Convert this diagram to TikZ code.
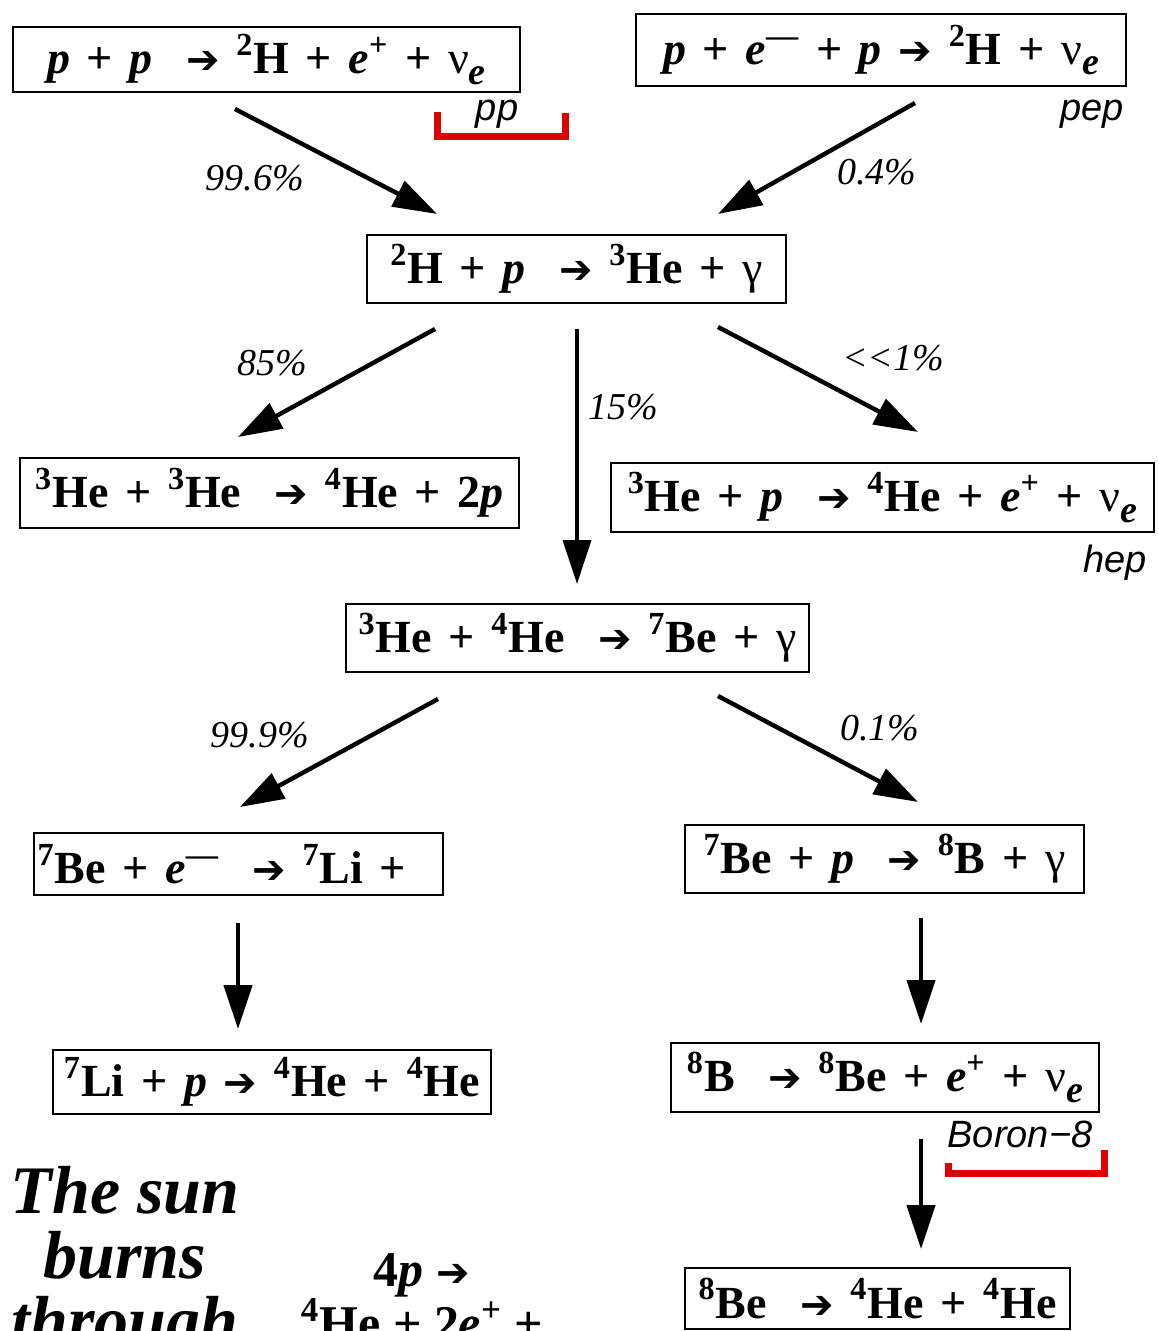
\documentclass[tikz,border=0pt]{standalone}
\usepackage{fontspec}
\setmainfont{Liberation Serif}
\setsansfont{Liberation Sans}
\newfontfamily\rxnfont[WordSpace=1.45]{Liberation Serif}
\newfontfamily\arrfont{DejaVu Sans}
\usetikzlibrary{arrows.meta,positioning,calc}
\definecolor{brred}{HTML}{DD0000}
\newcommand{\nuc}[2]{\textsuperscript{#1}#2}
\newcommand{\prt}{\textit{p}}
\newcommand{\elc}[1]{\textit{e}\textsuperscript{#1}}
\newcommand{\nue}{{\mdseries ν}\raisebox{-0.5ex}{\fontsize{19}{19}\selectfont\textit{e}}}
\newcommand{\gam}{{\mdseries γ}}
\newcommand{\yields}{{\arrfont\fontsize{20}{20}\selectfont ➔}}

\begin{document}
\begin{tikzpicture}[x=0.5pt,y=-0.5pt,
  rxn/.style={draw,line width=1pt,inner sep=0pt,font=\rxnfont\bfseries\fontsize{23}{27}\selectfont},
  flow/.style={line width=2.2pt,-{Triangle[length=22pt,width=14pt]}},
  pct/.style={font=\itshape\fontsize{19}{22}\selectfont},
  tag/.style={font=\sffamily\itshape\fontsize{19}{22}\selectfont},
  brk/.style={draw=brred,line width=3.5pt}]
  \clip (0,0) rectangle (1159,1331);

  % reactions
  \node[rxn,minimum width=253.5pt,minimum height=32.5pt] (pp) at (266.5,59.5)
    {\prt\ + \prt\ \ \yields\ \nuc{2}{H} + \elc{+} + \nue};
  \node[rxn,minimum width=245pt,minimum height=36pt] (pep) at (881,50)
    {\prt\ + \elc{—} + \prt\ \yields\ \nuc{2}{H} + \nue};
  \node[rxn,minimum width=209.5pt,minimum height=34pt] (dp) at (576.5,269)
    {\nuc{2}{H} + \prt\ \ \yields\ \nuc{3}{He} + \gam};
  \node[rxn,minimum width=249.5pt,minimum height=35pt] (hehe) at (269.5,493)
    {\nuc{3}{He} + \nuc{3}{He} \ \yields\ \nuc{4}{He} + 2\prt};
  \node[rxn,minimum width=271.5pt,minimum height=34.5pt] (hep) at (882.5,497.5)
    {\nuc{3}{He} + \prt\ \ \yields\ \nuc{4}{He} + \elc{+} + \nue};
  \node[rxn,minimum width=231.5pt,minimum height=34pt] (be7) at (577.5,638)
    {\nuc{3}{He} + \nuc{4}{He} \ \yields\ \nuc{7}{Be} + \gam};
  \node[rxn,minimum width=204.5pt,minimum height=31pt] (ec) at (238.5,864)
    {\nuc{7}{Be} + \elc{—} \ \yields\ \nuc{7}{Li} + \ \ };
  \node[rxn,minimum width=199.5pt,minimum height=34pt] (b8) at (884.5,859)
    {\nuc{7}{Be} + \prt\ \ \yields\ \nuc{8}{B} + \gam};
  \node[rxn,minimum width=219pt,minimum height=32pt] (li) at (272,1082)
    {\nuc{7}{Li} + \prt\ \yields\ \nuc{4}{He} + \nuc{4}{He}};
  \node[rxn,minimum width=214pt,minimum height=34.5pt] (bdec) at (885,1077.5)
    {\nuc{8}{B} \ \yields\ \nuc{8}{Be} + \elc{+} + \nue};
  \node[rxn,minimum width=192.5pt,minimum height=30.5pt] (be8) at (877.5,1298.5)
    {\nuc{8}{Be} \ \yields\ \nuc{4}{He} + \nuc{4}{He}};

  % branches
  \draw[flow] ([shift={(-31.5,16)}]pp.south) -- ([shift={(-139.5,-20)}]dp.north);
  \draw[flow] ([shift={(34,16)}]pep.south) -- ([shift={(141.5,-20)}]dp.north);
  \draw[flow] ([shift={(-141.5,25)}]dp.south) -- ([shift={(-31.5,-20)}]hehe.north);
  \draw[flow,line width=1.8pt] ([shift={(0.5,25)}]dp.south) -- ([shift={(-0.5,-19)}]be7.north);
  \draw[flow] ([shift={(141.5,23)}]dp.south) -- ([shift={(35.5,-30)}]hep.north);
  \draw[flow] ([shift={(-139.5,26)}]be7.south) -- ([shift={(1.5,-25)}]ec.north);
  \draw[flow] ([shift={(140.5,23)}]be7.south) -- ([shift={(33.5,-22)}]b8.north);
  \draw[flow] ([shift={(-0.5,27)}]ec.south) -- ([shift={(-34,-20)}]li.north);
  \draw[flow] ([shift={(36.5,24)}]b8.south) -- ([shift={(36,-18)}]bdec.north);
  \draw[flow] ([shift={(36,26)}]bdec.south) -- ([shift={(43.5,-18)}]be8.north);

  % branching ratios
  \node[pct] (r1) at (255,178) {99.6\%};
  \node[pct] (r2) at (877,172) {0.4\%};
  \node[pct] (r3) at (272,363) {85\%};
  \node[pct] (r4) at (623,407) {15\%};
  \node[pct] (r5) at (893,358) {{<}{<}1\%};
  \node[pct] (r6) at (260,735) {99.9\%};
  \node[pct] (r7) at (880,728) {0.1\%};

  % neutrino names
  \node[tag] (tpp) at (497,114) {pp};
  \node[tag] (tpep) at (1092,114) {pep};
  \node[tag] (thep) at (1115,563) {hep};
  \node[tag] (tb8) at (1020,1134) {Boron−8};
  \draw[brk] (437,112) -- (437,137) -- (565,137) -- (565,113);
  \draw[brk] (948,1163) -- (948,1173) -- (1104,1173) -- (1104,1150);

  % summary
  \node[font=\bfseries\itshape\fontsize{34}{32.5}\selectfont,align=center,anchor=base]
    (sun) at (125,1343) {The sun\\burns\\through};
  \node[font=\bfseries\fontsize{25}{25}\selectfont,align=center,anchor=base]
    (net) at (422,1340) {4\prt\ \yields\\\nuc{4}{He} + 2\elc{+} +};
\end{tikzpicture}
\end{document}
